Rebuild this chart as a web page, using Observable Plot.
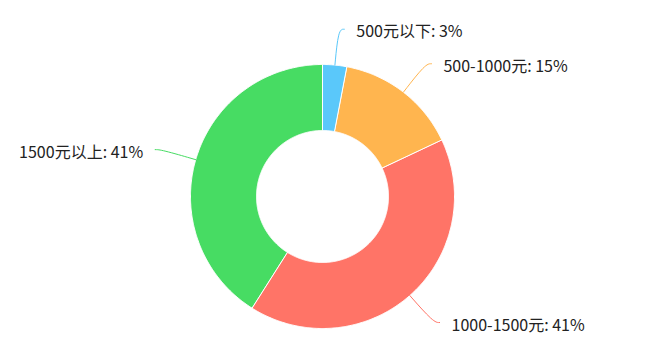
<!DOCTYPE html>
<html>
<head>
<meta charset="utf-8">
<script src="https://cdn.jsdelivr.net/npm/d3@7"></script>
<script src="https://cdn.jsdelivr.net/npm/@observablehq/plot@0.6"></script>
<style>
  html, body { margin: 0; padding: 0; background: #fff; }
  #chart svg { display: block; }
</style>
</head>
<body>
<div id="chart"></div>
<script>
// ---- data ----
const categories = ["500元以下", "500-1000元", "1000-1500元", "1500元以上"];
const values = [3, 15, 41, 41];
const colors = ["#5AC8FA", "#FFB54F", "#FF7467", "#47DC63"];

// ---- layout constants ----
const W = 650, H = 352;
const cx = 322, cy = 196, R = 132;     // pixels
const inner = 0.5;                      // inner radius (fraction of outer)
const lineR = 168 / R;                  // label elbow radius
const len2 = 6 / R;                     // horizontal leg
const gap = 12 / R;                     // line end -> text

const total = d3.sum(values);
let acc = 0;
const slices = values.map((v, i) => {
  const a0 = acc / total * 2 * Math.PI;
  acc += v;
  const a1 = acc / total * 2 * Math.PI;
  return {key: categories[i], value: v, a0, a1, mid: (a0 + a1) / 2};
});

const pt = (r, a) => ({x: r * Math.sin(a), y: -r * Math.cos(a)});

// polygon points for each ring slice
const ringPts = [];
for (const s of slices) {
  const n = Math.max(4, Math.ceil((s.a1 - s.a0) / (Math.PI / 360)));
  for (let k = 0; k <= n; k++) {
    const a = s.a0 + (s.a1 - s.a0) * k / n;
    ringPts.push({key: s.key, ...pt(1, a)});
  }
  for (let k = n; k >= 0; k--) {
    const a = s.a0 + (s.a1 - s.a0) * k / n;
    ringPts.push({key: s.key, ...pt(inner, a)});
  }
}

// leader lines and labels
const leaderPts = [];
const labels = [];
for (const s of slices) {
  const side = Math.sin(s.mid) >= 0 ? 1 : -1;
  const p1 = pt(1, s.mid);
  const p2 = pt(lineR, s.mid);
  const p3 = {x: p2.x + side * len2, y: p2.y};
  leaderPts.push({key: s.key, ...p1}, {key: s.key, ...p2}, {key: s.key, ...p3});
  labels.push({key: s.key, side, x: p3.x + side * gap, y: p3.y, text: `${s.key}: ${s.value}%`});
}

const font = "'Microsoft YaHei', 'Noto Sans CJK SC', sans-serif";

const chart = Plot.plot({
  width: W,
  height: H,
  margin: 0,
  x: {domain: [-cx / R, (W - cx) / R], range: [0, W], axis: null},
  y: {domain: [-cy / R, (H - cy) / R], range: [0, H], axis: null},
  color: {domain: categories, range: colors},
  style: {fontFamily: font, background: "#fff"},
  marks: [
    Plot.line(ringPts, {x: "x", y: "y", z: "key", fill: "key", stroke: "#fff", strokeWidth: 1, curve: "linear-closed"}),
    Plot.line(leaderPts, {x: "x", y: "y", z: "key", stroke: "key", strokeWidth: 1, curve: "basis"}),
    Plot.text(labels.filter(d => d.side > 0), {x: "x", y: "y", text: "text", textAnchor: "start", dy: 3, fontSize: 16, fill: "#222"}),
    Plot.text(labels.filter(d => d.side < 0), {x: "x", y: "y", text: "text", textAnchor: "end", dy: 3, fontSize: 16, fill: "#222"})
  ]
});
document.getElementById("chart").appendChild(chart);
</script>
</body>
</html>
